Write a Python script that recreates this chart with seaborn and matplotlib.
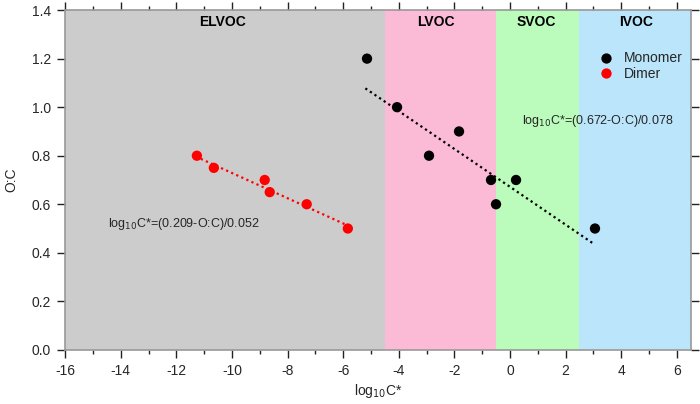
import matplotlib
matplotlib.use("Agg")
import matplotlib.pyplot as plt
import seaborn as sns
import pandas as pd
import numpy as np
from matplotlib.ticker import MultipleLocator

sns.set_theme(style="white")
plt.rcParams['font.family'] = ['Liberation Sans', 'DejaVu Sans']

# Data
mono_x = [-5.14, -4.06, -2.91, -1.83, -0.68, -0.5, 0.22, 3.06]
mono_y = [1.2, 1.0, 0.8, 0.9, 0.7, 0.6, 0.7, 0.5]
dimer_x = [-11.26, -10.65, -8.82, -8.64, -7.31, -5.83]
dimer_y = [0.8, 0.75, 0.7, 0.65, 0.6, 0.5]

mono_fit = (0.672, 0.078, -5.2, 3.0)   # intercept, slope, x start, x end
dimer_fit = (0.209, 0.052, -11.3, -5.8)

regions = ["ELVOC", "LVOC", "SVOC", "IVOC"]
region_edges = [-16, -4.5, -0.5, 2.5, 6.5]
region_colors = ["#cccccc", "#fbbbd6", "#bbfbbb", "#bbe5fb"]
region_label_x = [-10.35, -2.65, 0.95, 4.55]

df = pd.DataFrame({
    "x": mono_x + dimer_x,
    "y": mono_y + dimer_y,
    "type": ["Monomer"] * len(mono_x) + ["Dimer"] * len(dimer_x),
})

fig = plt.figure(figsize=(7.0, 4.04), dpi=100)
ax = fig.add_axes([0.093, 0.134, 0.8936, 0.841])

for i, name in enumerate(regions):
    ax.axvspan(region_edges[i], region_edges[i + 1], color=region_colors[i], lw=0, zorder=0)
    ax.text(region_label_x[i], 1.35, name, ha="center", va="center",
            fontsize=10, fontweight="bold", color="black")

# fit lines
for (a, b, x0, x1), col in [(mono_fit, "black"), (dimer_fit, "#ff0000")]:
    xs = np.array([x0, x1])
    ax.plot(xs, a - b * xs, color=col, lw=1.6, ls=(0, (1, 1.5)), zorder=2)

sns.scatterplot(data=df, x="x", y="y", hue="type",
                palette={"Monomer": "black", "Dimer": "#ff0000"},
                s=55, edgecolor="none", ax=ax, zorder=3)

ax.text(-14.45, 0.52, r"log$_{10}$C*=(0.209-O:C)/0.052", ha="left", va="center", fontsize=9)
ax.text(0.44, 0.943, r"log$_{10}$C*=(0.672-O:C)/0.078", ha="left", va="center", fontsize=9)

ax.set_xlim(-16, 6.5)
ax.set_ylim(0, 1.4)
ax.xaxis.set_minor_locator(MultipleLocator(1))
ax.set_yticks(np.arange(0, 1.41, 0.2))
ax.set_yticklabels([f"{v:.1f}" for v in np.arange(0, 1.41, 0.2)])
ax.set_xticks(np.arange(-16, 7, 2))
ax.set_xticklabels([str(v) for v in range(-16, 7, 2)])

ax.tick_params(which="major", direction="out", length=6, width=1, color="#222222",
               labelsize=10, top=True, right=True, bottom=True, left=True,
               labeltop=False, labelright=False, pad=4)
ax.tick_params(which="minor", direction="out", length=3, width=1, color="#222222",
               top=True, bottom=True)

for s in ax.spines.values():
    s.set_color("#999999")
    s.set_linewidth(1.2)

ax.set_xlabel(r"log$_{10}$C*", fontsize=10, labelpad=3)
ax.set_ylabel("O:C", fontsize=10, labelpad=10)

ax.legend(loc="upper left", bbox_to_anchor=(0.822, 0.915), frameon=False,
          fontsize=10, handletextpad=0.3, labelspacing=0.1, markerscale=1.0)
ax.get_legend().set_title(None)

fig.savefig("out.png", dpi=100)
